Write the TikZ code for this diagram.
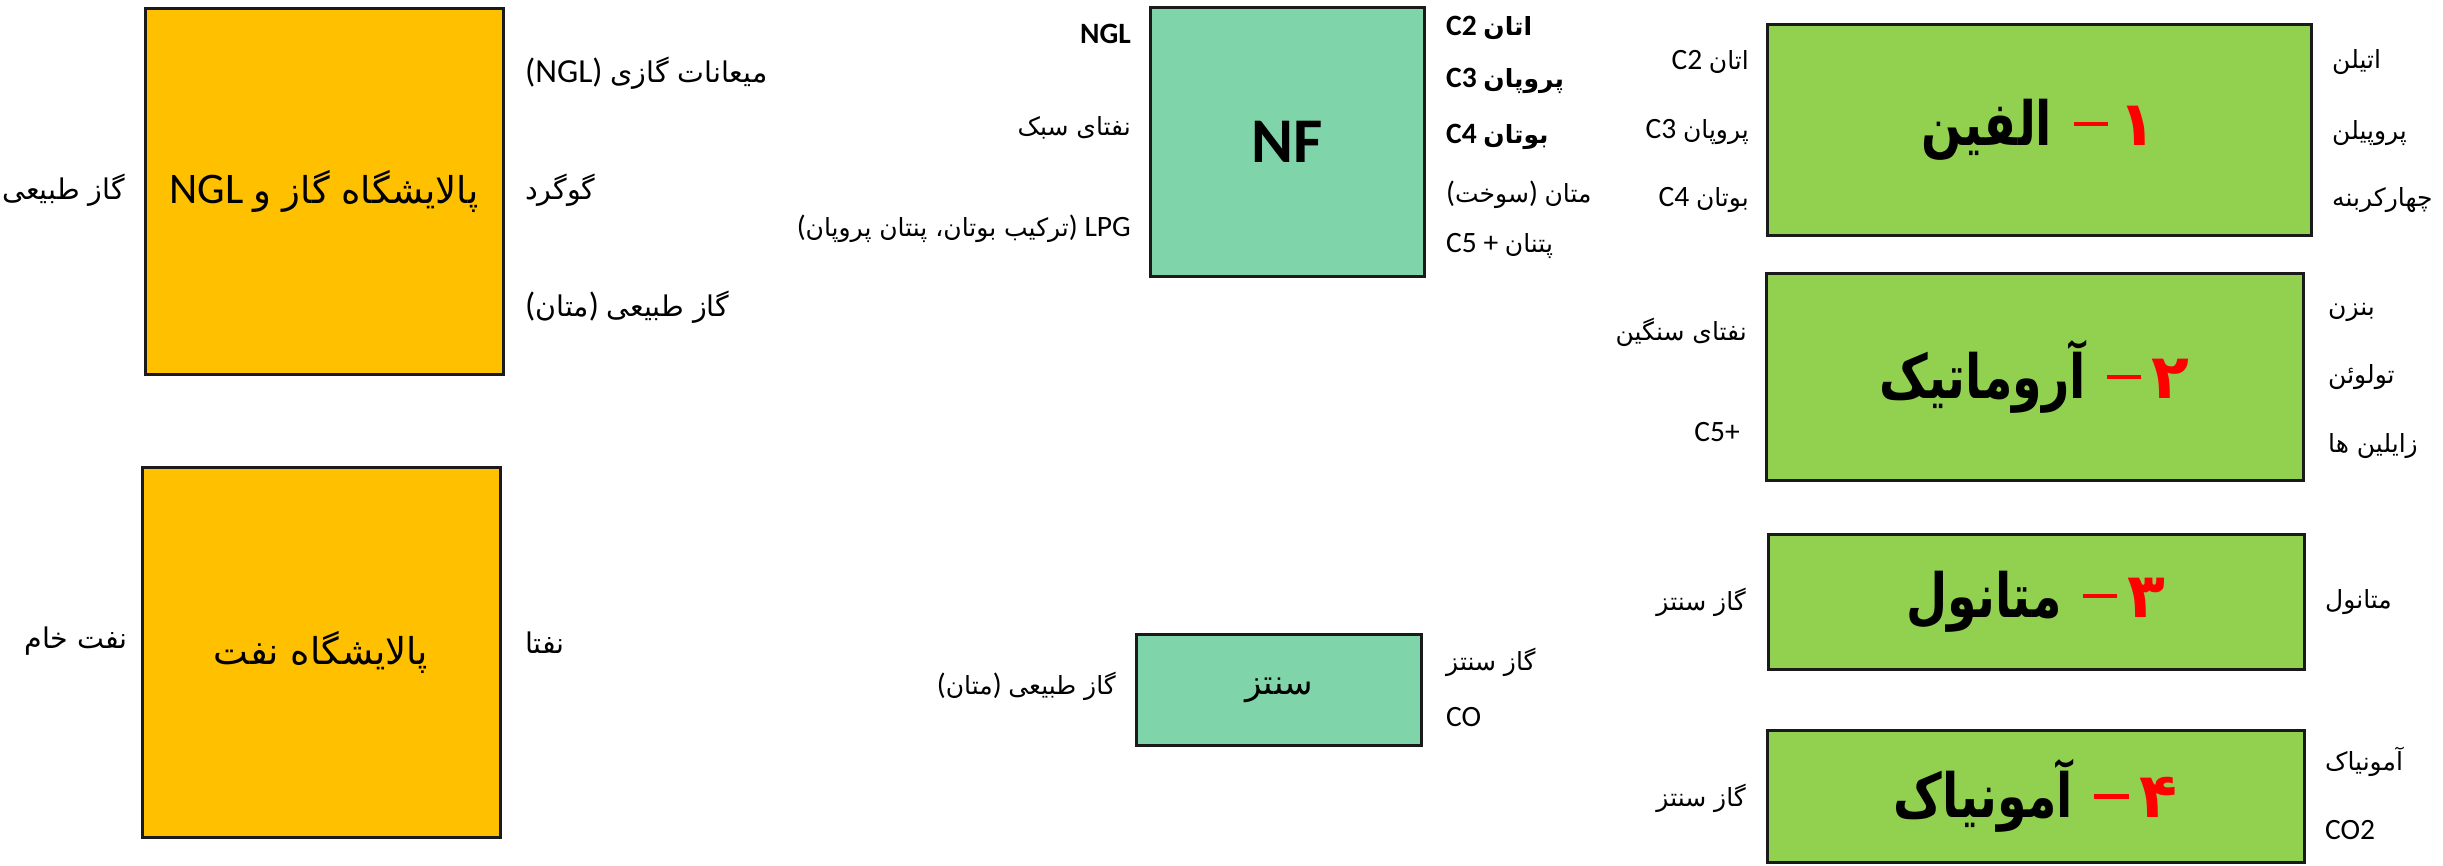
\documentclass[tikz,border=0pt]{standalone}
\usepackage{fontspec}
\setmainfont{Carlito}[Scale=1.18]
\newfontfamily\arabicfont[Script=Arabic]{DejaVu Sans}
\TeXXeTstate=1
\newcommand\fa[1]{{\arabicfont\beginR #1\endR}}
\newcommand\titleword[1]{\scalebox{0.95}[1.22]{\fa{#1}}}
\newcommand\titlenum[1]{\hspace{0.36em}\textcolor{red}{\rule[0.32em]{0.58em}{0.075em}}\hspace{0.18em}{\color{red}\arabicfont\fontsize{62}{70}\selectfont #1}}
\definecolor{orangefill}{HTML}{FFC000}
\definecolor{tealfill}{HTML}{7FD5A9}
\definecolor{limefill}{HTML}{92D050}
\definecolor{edge}{HTML}{1A1A1A}
\tikzset{
  boxbase/.style={draw=edge, line width=3pt, inner sep=0pt, align=center},
  orangebox/.style={boxbase, fill=orangefill, font=\fontsize{37}{44}\selectfont},
  tealbox/.style={boxbase, fill=tealfill},
  limebox/.style={boxbase, fill=limefill, font=\fontsize{50}{60}\selectfont\bfseries},
  lbl/.style={inner sep=0pt, font=\fontsize{25}{30}\selectfont},
  biglbl/.style={inner sep=0pt, font=\fontsize{28.5}{34}\selectfont},
  boldlbl/.style={inner sep=0pt, font=\fontsize{25}{30}\selectfont\bfseries},
}
\begin{document}
\begin{tikzpicture}[x=1pt,y=-1pt]
\useasboundingbox (0,0) rectangle (2443,865);
\fill[white] (0,0) rectangle (2443,865);

% ---------- orange refinery boxes ----------
\node[orangebox, minimum width=358pt, minimum height=366pt] (gasref) at (324,191)
  {NGL \fa{پالایشگاه گاز و}};
\node[orangebox, minimum width=358pt, minimum height=370pt] (oilref) at (321,652)
  {\fa{پالایشگاه نفت}};

\node[biglbl, anchor=east] (ng) at (125,190) {\fa{گاز طبیعی}};
\node[biglbl, anchor=west] (ngl) at (525,73) {(NGL) \fa{میعانات گازی}};
\node[biglbl, anchor=west] (sulf) at (525,190) {\fa{گوگرد}};
\node[biglbl, anchor=west] (meth) at (525,307) {(\fa{متان}) \fa{گاز طبیعی}};

\node[biglbl, anchor=east] (crude) at (128,641) {\fa{نفت خام}};
\node[biglbl, anchor=west] (naphtha) at (525,643) {\fa{نفتا}};

% ---------- NF box ----------
\node[tealbox, minimum width=274pt, minimum height=269pt,
      font=\fontsize{54}{62}\selectfont\bfseries] (nf) at (1287,142) {NF};
\node[boldlbl, anchor=east] (nfngl) at (1131,34) {NGL};
\node[lbl, anchor=east] (nflight) at (1131,128) {\fa{نفتای سبک}};
\node[lbl, anchor=east] (nflpg) at (1131,229) {(\fa{ترکیب بوتان، پنتان پروپان}) LPG};
\node[boldlbl, anchor=west] (nfc2) at (1446,28) {C2 \fa{اتان}};
\node[boldlbl, anchor=west] (nfc3) at (1446,81) {C3 \fa{پروپان}};
\node[boldlbl, anchor=west] (nfc4) at (1446,137) {C4 \fa{بوتان}};
\node[lbl, anchor=west] (nffuel) at (1446,195) {(\fa{سوخت}) \fa{متان}};
\node[lbl, anchor=west] (nfc5) at (1446,246) {C5 + \fa{پتنان}};

% ---------- synthesis box ----------
\node[tealbox, minimum width=285pt, minimum height=111pt,
      font=\fontsize{34}{40}\selectfont] (syn) at (1279,690) {\fa{سنتز}};
\node[lbl, anchor=east] (synin) at (1116,686) {(\fa{متان}) \fa{گاز طبیعی}};
\node[lbl, anchor=west] (synout) at (1446,662) {\fa{گاز سنتز}};
\node[lbl, anchor=west] (synco) at (1446,717) {CO};

% ---------- 1 olefin ----------
\node[limebox, minimum width=544pt, minimum height=211pt] (olef) at (2039,129.5)
  {\titleword{الفین}\titlenum{۱}};
\node[lbl, anchor=east] (olc2) at (1749,62) {C2 \fa{اتان}};
\node[lbl, anchor=east] (olc3) at (1749,132) {C3 \fa{پروپان}};
\node[lbl, anchor=east] (olc4) at (1749,200) {C4 \fa{بوتان}};
\node[lbl, anchor=west] (olo1) at (2332,62) {\fa{اتیلن}};
\node[lbl, anchor=west] (olo2) at (2332,133) {\fa{پروپیلن}};
\node[lbl, anchor=west] (olo3) at (2332,200) {\fa{چهارکربنه}};

% ---------- 2 aromatic ----------
\node[limebox, minimum width=537pt, minimum height=207pt] (arom) at (2034.5,376.5)
  {\titleword{آروماتیک}\titlenum{۲}};
\node[lbl, anchor=east] (arin1) at (1747,332) {\fa{نفتای سنگین}};
\node[lbl, anchor=east] (arin2) at (1740,432) {C5+};
\node[lbl, anchor=west] (aro1) at (2328,312) {\fa{بنزن}};
\node[lbl, anchor=west] (aro2) at (2328,377) {\fa{تولوئن}};
\node[lbl, anchor=west] (aro3) at (2328,446) {\fa{زایلین ها}};

% ---------- 3 methanol ----------
\node[limebox, minimum width=536pt, minimum height=135pt] (methn) at (2036,601.5)
  {\titleword{متانول}\titlenum{۳}};
\node[lbl, anchor=east] (mein) at (1746,602) {\fa{گاز سنتز}};
\node[lbl, anchor=west] (meout) at (2325,602) {\fa{متانول}};

% ---------- 4 ammonia ----------
\node[limebox, minimum width=537pt, minimum height=132pt] (amm) at (2035.5,796)
  {\titleword{آمونیاک}\titlenum{۴}};
\node[lbl, anchor=east] (amin) at (1746,798) {\fa{گاز سنتز}};
\node[lbl, anchor=west] (amout1) at (2325,762) {\fa{آمونیاک}};
\node[lbl, anchor=west] (amout2) at (2325,830) {CO2};
\end{tikzpicture}
\end{document}
